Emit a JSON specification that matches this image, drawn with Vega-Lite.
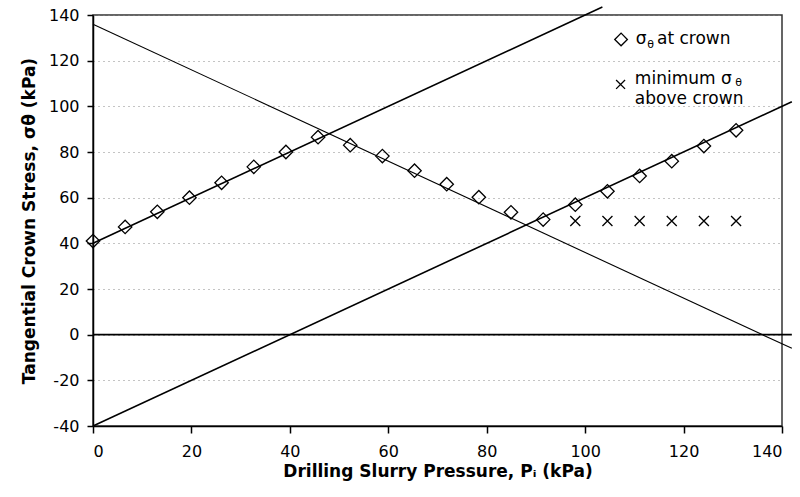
{
  "$schema": "https://vega.github.io/schema/vega-lite/v6.json",
  "width": 689,
  "height": 411,
  "autosize": {"type": "none"},
  "padding": {"left": 93, "top": 15, "right": 18, "bottom": 71},
  "background": "white",
  "config": {
    "view": {"stroke": "#333", "strokeWidth": 1.5},
    "font": "DejaVu Sans",
    "axis": {
      "labelFont": "DejaVu Sans",
      "labelFontSize": 16,
      "labelColor": "black",
      "titleFont": "DejaVu Sans",
      "titleFontSize": 17,
      "titleFontWeight": "bold",
      "titleColor": "black",
      "domainColor": "black",
      "domainWidth": 1.5,
      "tickColor": "black",
      "tickWidth": 1.5
    }
  },
  "datasets": {
    "lines": [
      {"series": "rise", "p": 0, "s": 40},
      {"series": "rise", "p": 103.5, "s": 143.5},
      {"series": "fall", "p": 0, "s": 136},
      {"series": "fall", "p": 142, "s": -6},
      {"series": "low", "p": 0, "s": -40},
      {"series": "low", "p": 142, "s": 102},
      {"series": "zero", "p": 0, "s": 0},
      {"series": "zero", "p": 142, "s": 0}
    ],
    "crown": [
      {"p": 0, "s": 41},
      {"p": 6.53, "s": 47.2},
      {"p": 13.07, "s": 53.8},
      {"p": 19.6, "s": 60},
      {"p": 26.13, "s": 66.5},
      {"p": 32.67, "s": 73.5},
      {"p": 39.2, "s": 80},
      {"p": 45.73, "s": 86.5},
      {"p": 52.27, "s": 83},
      {"p": 58.8, "s": 78.2},
      {"p": 65.33, "s": 71.8},
      {"p": 71.87, "s": 65.9},
      {"p": 78.4, "s": 60.2},
      {"p": 84.93, "s": 53.6},
      {"p": 91.47, "s": 50.4},
      {"p": 98, "s": 56.9},
      {"p": 104.53, "s": 62.8},
      {"p": 111.07, "s": 69.5},
      {"p": 117.6, "s": 76},
      {"p": 124.13, "s": 82.6},
      {"p": 130.67, "s": 89.5}
    ],
    "above": [
      {"p": 98, "s": 49.8},
      {"p": 104.53, "s": 49.8},
      {"p": 111.07, "s": 49.8},
      {"p": 117.6, "s": 49.8},
      {"p": 124.13, "s": 49.8},
      {"p": 130.67, "s": 49.8}
    ]
  },
  "layer": [
    {
      "data": {"name": "lines"},
      "transform": [{"filter": "datum.series === 'rise' || datum.series === 'low' || datum.series === 'zero'"}],
      "mark": {"type": "line", "color": "black", "strokeWidth": 1.6, "clip": false},
      "encoding": {
        "x": {
          "field": "p", "type": "quantitative",
          "scale": {"domain": [0, 140], "nice": false, "zero": false},
          "axis": {
            "title": "Drilling Slurry Pressure, Pᵢ (kPa)",
            "values": [0, 20, 40, 60, 80, 100, 120, 140],
            "grid": false,
            "tickSize": 7,
            "labelPadding": 10,
            "titlePadding": 4
          }
        },
        "y": {
          "field": "s", "type": "quantitative",
          "scale": {"domain": [-40, 140], "nice": false, "zero": false},
          "axis": {
            "title": "Tangential Crown Stress, σθ (kPa)",
            "values": [-40, -20, 0, 20, 40, 60, 80, 100, 120, 140],
            "labelExpr": "replace(datum.label, '−', '-')",
            "grid": true,
            "gridColor": "#888",
            "gridDash": [1, 4],
            "gridWidth": 1,
            "tickSize": 6,
            "labelPadding": 8,
            "titlePadding": 10
          }
        },
        "detail": {"field": "series"}
      }
    },
    {
      "data": {"name": "lines"},
      "transform": [{"filter": "datum.series === 'fall'"}],
      "mark": {"type": "line", "color": "black", "strokeWidth": 1.1, "clip": false},
      "encoding": {
        "x": {"field": "p", "type": "quantitative"},
        "y": {"field": "s", "type": "quantitative"}
      }
    },
    {
      "data": {"name": "crown"},
      "mark": {"type": "point", "shape": "diamond", "filled": false, "color": "black", "strokeWidth": 1.3, "size": 180, "opacity": 1},
      "encoding": {
        "x": {"field": "p", "type": "quantitative"},
        "y": {"field": "s", "type": "quantitative"}
      }
    },
    {
      "data": {"name": "above"},
      "mark": {"type": "point", "shape": "M-1,-1L1,1M-1,1L1,-1", "filled": false, "color": "black", "strokeWidth": 1.3, "size": 100, "opacity": 1},
      "encoding": {
        "x": {"field": "p", "type": "quantitative"},
        "y": {"field": "s", "type": "quantitative"}
      }
    },
    {
      "data": {"values": [{}]},
      "mark": {"type": "point", "shape": "diamond", "filled": false, "color": "black", "strokeWidth": 1.3, "size": 160, "opacity": 1},
      "encoding": {"x": {"datum": 107.3}, "y": {"datum": 129.3}}
    },
    {
      "data": {"values": [{}]},
      "mark": {"type": "point", "shape": "M-1,-1L1,1M-1,1L1,-1", "filled": false, "color": "black", "strokeWidth": 1.3, "size": 80, "opacity": 1},
      "encoding": {"x": {"datum": 107.2}, "y": {"datum": 109.6}}
    },
    {
      "data": {"values": [{"t": "σ"}]},
      "mark": {"type": "text", "align": "left", "baseline": "alphabetic", "fontSize": 17, "font": "DejaVu Sans", "color": "black"},
      "encoding": {"x": {"datum": 110.3}, "y": {"datum": 127.3}, "text": {"field": "t"}}
    },
    {
      "data": {"values": [{"t": "θ"}]},
      "mark": {"type": "text", "align": "left", "baseline": "alphabetic", "fontSize": 11, "font": "DejaVu Sans", "color": "black"},
      "encoding": {"x": {"datum": 112.6}, "y": {"datum": 125.6}, "text": {"field": "t"}}
    },
    {
      "data": {"values": [{"t": "at crown"}]},
      "mark": {"type": "text", "align": "left", "baseline": "alphabetic", "fontSize": 17, "font": "DejaVu Sans", "color": "black"},
      "encoding": {"x": {"datum": 114.6}, "y": {"datum": 127.3}, "text": {"field": "t"}}
    },
    {
      "data": {"values": [{"t": "minimum σ"}]},
      "mark": {"type": "text", "align": "left", "baseline": "alphabetic", "fontSize": 17, "font": "DejaVu Sans", "color": "black"},
      "encoding": {"x": {"datum": 110.1}, "y": {"datum": 110.0}, "text": {"field": "t"}}
    },
    {
      "data": {"values": [{"t": "θ"}]},
      "mark": {"type": "text", "align": "left", "baseline": "alphabetic", "fontSize": 11, "font": "DejaVu Sans", "color": "black"},
      "encoding": {"x": {"datum": 130.5}, "y": {"datum": 108.9}, "text": {"field": "t"}}
    },
    {
      "data": {"values": [{"t": "above crown"}]},
      "mark": {"type": "text", "align": "left", "baseline": "alphabetic", "fontSize": 17, "font": "DejaVu Sans", "color": "black"},
      "encoding": {"x": {"datum": 110.1}, "y": {"datum": 101.2}, "text": {"field": "t"}}
    }
  ]
}
